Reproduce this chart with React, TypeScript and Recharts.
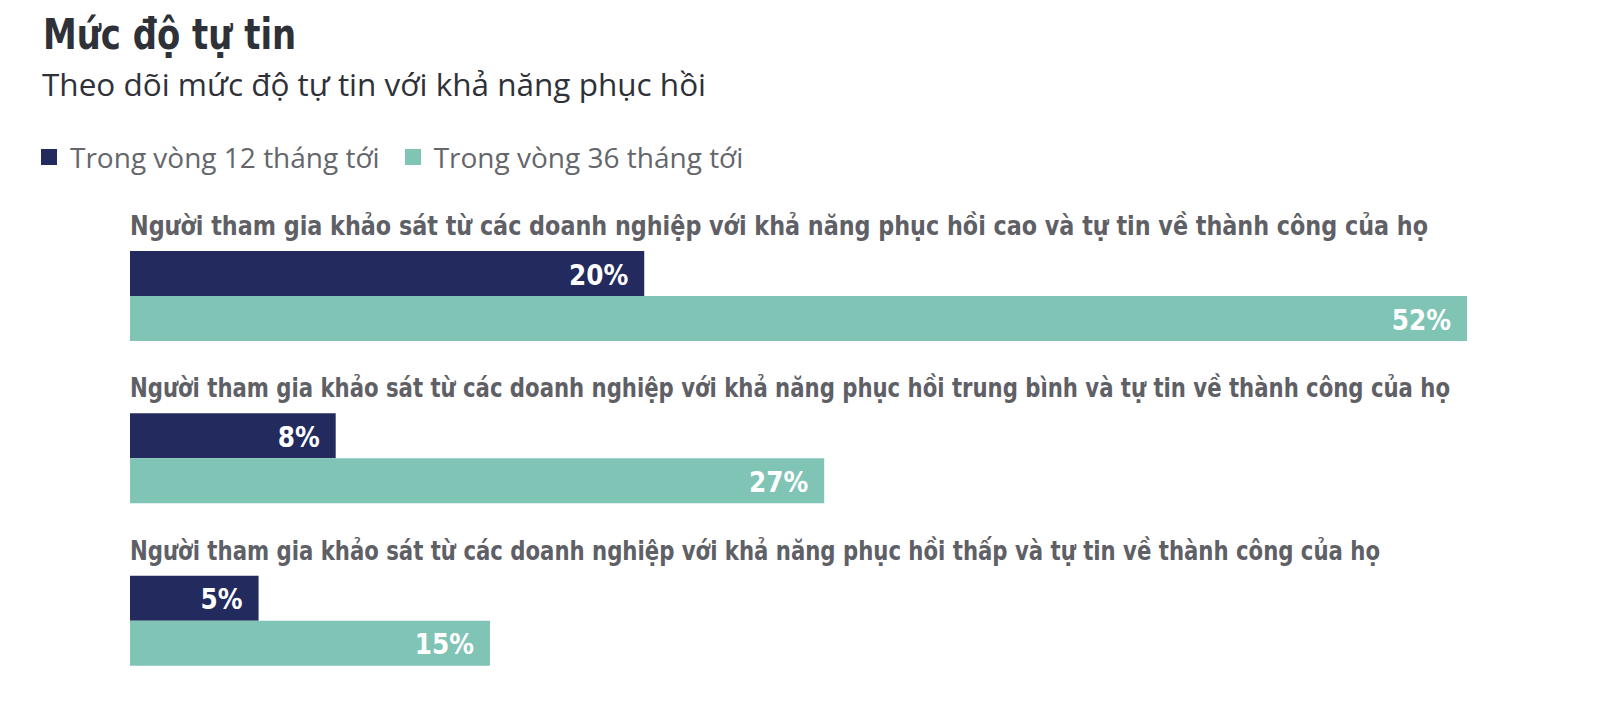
import { BarChart, Bar, XAxis, YAxis, LabelList } from 'recharts'

const categories = [
  'Người tham gia khảo sát từ các doanh nghiệp với khả năng phục hồi cao và tự tin về thành công của họ',
  'Người tham gia khảo sát từ các doanh nghiệp với khả năng phục hồi trung bình và tự tin về thành công của họ',
  'Người tham gia khảo sát từ các doanh nghiệp với khả năng phục hồi thấp và tự tin về thành công của họ',
]
const within12 = [20, 8, 5]
const within36 = [52, 27, 14]
const labels12 = ['20%', '8%', '5%']
const labels36 = ['52%', '27%', '15%']

const seriesNames = ['Trong vòng 12 tháng tới', 'Trong vòng 36 tháng tới']

const COLORS = {
  navy: '#222a5e',
  teal: '#7fc4b5',
  title: '#2f3138',
  label: '#5e6066',
  legend: '#64666b',
}

// condensed look: squeeze the category headings to the widths they take in the original
const headingWidths = [1298, 1320, 1250]

const CONDENSED = "'Liberation Sans Narrow', 'DejaVu Sans Condensed', 'Open Sans', sans-serif"
const REGULAR = "'Open Sans', 'Noto Sans', sans-serif"

const data = categories.map((name, i) => ({
  name,
  m12: within12[i],
  m36: within36[i],
}))

function CategoryLabel(props: any) {
  const { x, y, index } = props
  return (
    <text
      x={x}
      y={y - 16}
      fill={COLORS.label}
      fontFamily={CONDENSED}
      fontWeight={700}
      fontSize={26}
      textLength={headingWidths[index]}
      lengthAdjust="spacingAndGlyphs"
    >
      {categories[index]}
    </text>
  )
}

const valueLabel = (labels: string[]) => (props: any) => {
  const { x, y, width, height, index } = props
  return (
    <text
      x={x + width - 16}
      y={y + height / 2 + 1}
      textAnchor="end"
      dominantBaseline="central"
      fill="#fff"
      fontFamily={CONDENSED}
      fontWeight={700}
      fontSize={27.5}
    >
      {labels[index]}
    </text>
  )
}

export default function App() {
  return (
    <div style={{ position: 'relative', width: 1586, height: 704, background: '#fff' }}>
      <div
        style={{
          position: 'absolute', left: 35, top: 2, fontFamily: CONDENSED, fontWeight: 700,
          fontSize: 43, lineHeight: '48px', color: COLORS.title, whiteSpace: 'nowrap',
          transform: 'scaleX(0.876)', transformOrigin: 'left center',
        }}
      >
        Mức độ tự tin
      </div>
      <div
        style={{
          position: 'absolute', left: 34, top: 56, fontFamily: REGULAR, fontSize: 31.5,
          lineHeight: '40px', color: COLORS.title, whiteSpace: 'nowrap',
        }}
      >
        Theo dõi mức độ tự tin với khả năng phục hồi
      </div>
      <div
        style={{
          position: 'absolute', left: 33, top: 130, display: 'flex', alignItems: 'center',
          fontFamily: REGULAR, fontSize: 28, lineHeight: '38px', color: COLORS.legend, whiteSpace: 'nowrap',
        }}
      >
        {seriesNames.map((s, i) => (
          <div key={s} style={{ display: 'flex', alignItems: 'center', marginRight: 25 }}>
            <span style={{ width: 16, height: 16, background: i === 0 ? COLORS.navy : COLORS.teal, marginRight: 13 }} />
            {s}
          </div>
        ))}
      </div>
      <div style={{ position: 'absolute', left: 0, top: 0 }}>
        <BarChart
          width={1586}
          height={704}
          data={data}
          layout="vertical"
          margin={{ top: 207, right: 127, bottom: 10, left: 122 }}
          barGap={0}
          barSize={45}
        >
          <XAxis type="number" domain={[0, 'dataMax']} hide />
          <YAxis type="category" dataKey="name" hide />
          <Bar dataKey="m12" fill={COLORS.navy} isAnimationActive={false}>
            <LabelList dataKey="m12" content={CategoryLabel} />
            <LabelList dataKey="m12" content={valueLabel(labels12)} />
          </Bar>
          <Bar dataKey="m36" fill={COLORS.teal} isAnimationActive={false}>
            <LabelList dataKey="m36" content={valueLabel(labels36)} />
          </Bar>
        </BarChart>
      </div>
    </div>
  )
}
